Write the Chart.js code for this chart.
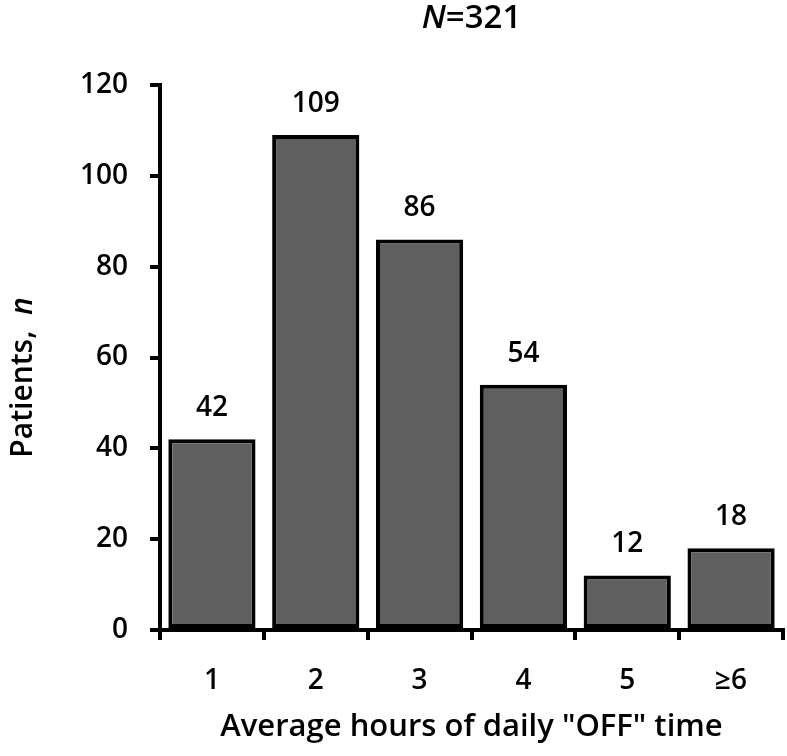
<!DOCTYPE html>
<html>
<head>
<meta charset="utf-8">
<script src="https://cdn.jsdelivr.net/npm/chart.js@4/dist/chart.umd.min.js"></script>
<style>
  html, body { margin: 0; padding: 0; background: #fff; }
  #wrap { width: 787px; height: 756px; }
</style>
</head>
<body>
<div id="wrap"><canvas id="c" width="787" height="756"></canvas></div>
<script>
var categories = ['1', '2', '3', '4', '5', '\u22656'];
var patients = [42, 109, 86, 54, 12, 18];
var yTicks = [0, 20, 40, 60, 80, 100, 120];
var totalN = 321;

var FONT = '"Open Sans", Lato, sans-serif';
var FS = 28;
var FW = '600';

// value labels on top of the bars
var barLabels = {
  id: 'barLabels',
  afterDatasetsDraw: function (chart) {
    var ctx = chart.ctx;
    var meta = chart.getDatasetMeta(0);
    ctx.save();
    ctx.font = FW + ' ' + FS + 'px ' + FONT;
    ctx.fillStyle = '#000';
    ctx.textAlign = 'center';
    ctx.textBaseline = 'bottom';
    meta.data.forEach(function (bar, i) {
      ctx.fillText(String(patients[i]), bar.x, bar.y - 17);
    });
    ctx.restore();
  }
};

// helper for text with italic pieces
function drawMixed(ctx, parts, x, y, size) {
  var w = 0;
  parts.forEach(function (p) {
    ctx.font = (p.it ? 'italic ' : '') + FW + ' ' + size + 'px ' + FONT;
    p.w = ctx.measureText(p.t).width;
    w += p.w;
  });
  var cx = x - w / 2;
  parts.forEach(function (p) {
    ctx.font = (p.it ? 'italic ' : '') + FW + ' ' + size + 'px ' + FONT;
    ctx.fillText(p.t, cx, y);
    cx += p.w;
  });
}

var titles = {
  id: 'titles',
  afterDraw: function (chart) {
    var ctx = chart.ctx;
    var a = chart.chartArea;
    ctx.save();
    ctx.fillStyle = '#000';
    ctx.textAlign = 'left';
    ctx.textBaseline = 'middle';
    drawMixed(ctx, [{ t: 'N', it: true }, { t: '=' + totalN }], (a.left + a.right) / 2, 19, 33);
    ctx.translate(23, (a.top + a.bottom) / 2 + 20);
    ctx.rotate(-Math.PI / 2);
    drawMixed(ctx, [{ t: 'Patients,  ' }, { t: 'n', it: true }], 0, 0, 30);
    ctx.restore();
  }
};

new Chart(document.getElementById('c'), {
  type: 'bar',
  data: {
    labels: categories,
    datasets: [{
      data: patients,
      backgroundColor: '#5f5f5f',
      borderColor: '#000',
      borderWidth: 4,
      borderSkipped: false,
      categoryPercentage: 1,
      barPercentage: 0.84
    }]
  },
  options: {
    responsive: false,
    animation: false,
    layout: { padding: { top: 85, right: 4, left: 0, bottom: 0 } },
    plugins: { legend: { display: false }, tooltip: { enabled: false } },
    scales: {
      x: {
        afterFit: function (s) { s.height = 126; },
        border: { color: '#000', width: 4 },
        grid: { offset: true, drawOnChartArea: false, color: '#000', lineWidth: 4, tickLength: 10 },
        ticks: { color: '#000', font: { family: FONT, size: FS, weight: FW }, padding: 24 },
        title: {
          display: true,
          text: 'Average hours of daily "OFF" time',
          color: '#000',
          font: { family: FONT, size: 31, weight: FW },
          padding: { top: 0, bottom: 10 }
        }
      },
      y: {
        min: 0,
        max: 120,
        afterFit: function (s) { s.width = 160; },
        afterBuildTicks: function (s) { s.ticks = yTicks.map(function (v) { return { value: v }; }); },
        border: { color: '#000', width: 4 },
        grid: { drawOnChartArea: false, color: '#000', lineWidth: 4, tickLength: 10 },
        ticks: { color: '#000', font: { family: FONT, size: FS, weight: FW }, padding: 22 }
      }
    }
  },
  plugins: [barLabels, titles]
});
</script>
</body>
</html>
